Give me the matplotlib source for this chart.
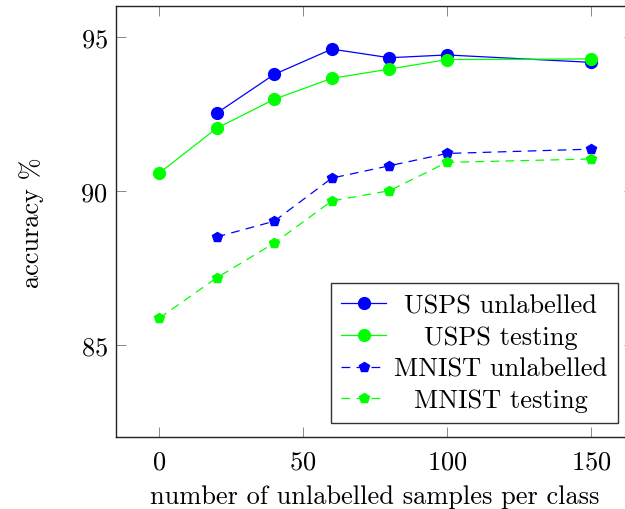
import matplotlib
matplotlib.use('Agg')
import matplotlib.pyplot as plt

plt.rcParams['font.family'] = ['cmr10', 'DejaVu Serif']
plt.rcParams['axes.formatter.use_mathtext'] = True
plt.rcParams['mathtext.fontset'] = 'cm'

# values
samples = [0, 20, 40, 60, 80, 100, 150]
usps_unlab = [None, 92.52, 93.78, 94.60, 94.32, 94.41, 94.17]
usps_test = [90.57, 92.03, 92.97, 93.65, 93.95, 94.26, 94.28]
mnist_unlab = [None, 88.50, 89.01, 90.41, 90.81, 91.21, 91.35]
mnist_test = [85.86, 87.17, 88.30, 89.67, 90.00, 90.92, 91.03]

labels = ['USPS unlabelled', 'USPS testing', 'MNIST unlabelled', 'MNIST testing']
x_ticks = [0, 50, 100, 150]
y_ticks = [85, 90, 95]

BLUE = '#0000ff'
GREEN = '#00ff00'
FS = 19


def pairs(xs, ys):
    pts = [(a, b) for a, b in zip(xs, ys) if b is not None]
    return [p[0] for p in pts], [p[1] for p in pts]


fig = plt.figure(figsize=(6.25, 5.1), dpi=100)
ax = fig.add_axes([116 / 625, 72 / 510, 518 / 625, 431 / 510])

dash = (0, (7, 5))
series = [
    (usps_unlab, BLUE, '-', 'o', 8.5),
    (usps_test, GREEN, '-', 'o', 8.5),
    (mnist_unlab, BLUE, dash, 'p', 7),
    (mnist_test, GREEN, dash, 'p', 7),
]
for (ys, c, ls, mk, ms), lab in zip(series, labels):
    xs, yv = pairs(samples, ys)
    ax.plot(xs, yv, color=c, linestyle=ls, lw=0.9, marker=mk, markersize=ms,
            markerfacecolor=c, markeredgecolor=c, label=lab)

ax.set_xlim(-15, 165)
ax.set_ylim(82, 96)
ax.set_xticks(x_ticks)
ax.set_yticks(y_ticks)
ax.tick_params(direction='in', length=7.5, width=0.7, color='#888888',
               top=True, right=True, labelsize=FS)
ax.tick_params(axis='x', pad=9)
ax.tick_params(axis='y', pad=6)
for s in ax.spines.values():
    s.set_linewidth(1.0)
    s.set_color('#222222')

ax.set_xlabel('number of unlabelled samples per class', fontsize=FS, labelpad=8)
ax.set_ylabel('accuracy %', fontsize=FS, labelpad=26)

leg = ax.legend(loc='lower right', bbox_to_anchor=((618 - 116) / 518, 14 / 431),
                borderaxespad=0, fontsize=FS, fancybox=False, framealpha=1,
                edgecolor='#333333', handlelength=1.7, handletextpad=0.3,
                labelspacing=0.3, borderpad=0.4)
leg.get_frame().set_linewidth(1.0)

# centre legend labels like pgfplots does
r = fig.canvas.get_renderer()
ws = [t.get_window_extent(r).width for t in leg.get_texts()]
wmax = max(ws)
for t, w in zip(leg.get_texts(), ws):
    t.set_x((wmax - w) / 2)

fig.savefig('out.png', dpi=100)
